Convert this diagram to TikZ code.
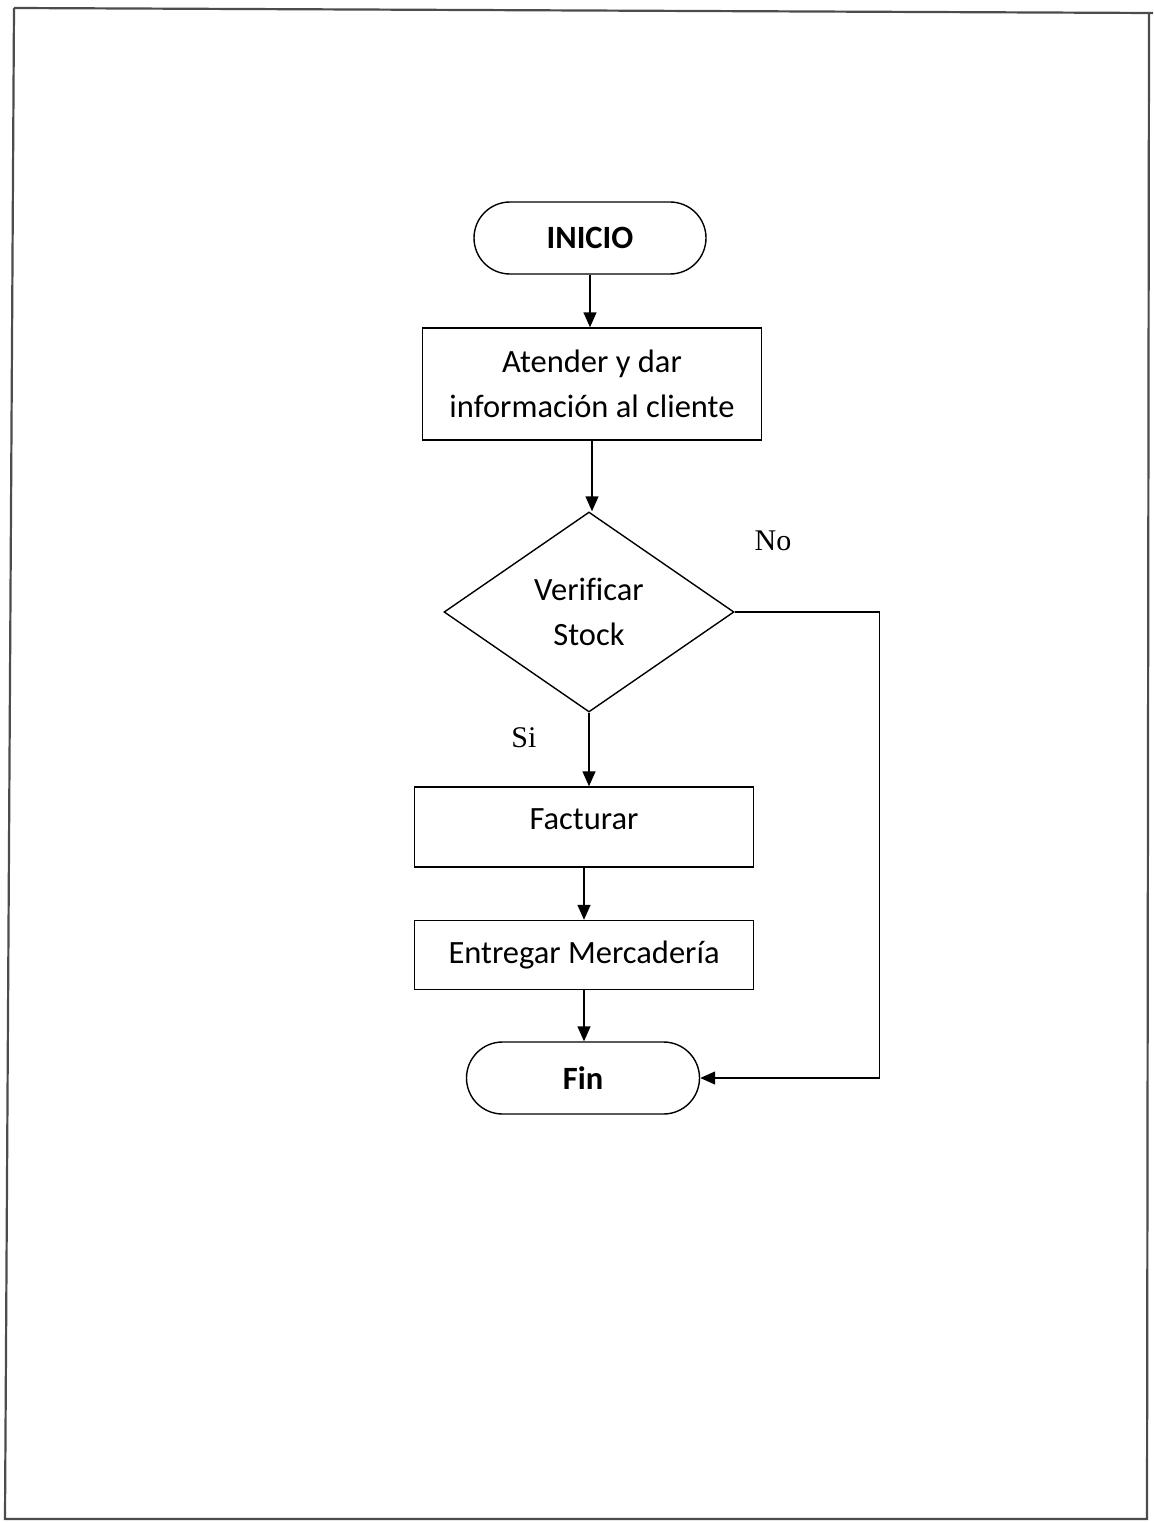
\documentclass[tikz,border=0pt]{standalone}
\usepackage{fontspec}
\setmainfont{Carlito}[Ligatures=NoCommon]
\newfontfamily\answerfont{Liberation Serif}
\usetikzlibrary{arrows.meta,shapes.geometric,calc}

\begin{document}
\begin{tikzpicture}[x=1pt,y=-1pt,line width=1.4pt,
  every node/.style={font=\fontsize{32.5}{45}\selectfont},
  terminal/.style={draw,rectangle,rounded corners=36pt,minimum width=232pt,
    minimum height=72pt,inner sep=0pt,font=\fontsize{32.5}{45}\selectfont\bfseries},
  process/.style={draw,rectangle,minimum width=339pt,inner sep=0pt,align=center},
  decision/.style={draw,diamond,minimum width=290pt,minimum height=200pt,
    inner sep=0pt,align=center},
  flow/.style={-{Triangle[length=15pt,width=13pt]}},
  answer/.style={font=\answerfont\fontsize{30}{36}\selectfont},
  frame/.style={draw=black!70,line width=2.2pt}]

\useasboundingbox (0,0) rectangle (1153,1522);
\fill[white] (0,0) rectangle (1153,1522);

% page border
\draw[frame] (14,8) -- (1153,13);
\draw[frame] (14,8) -- (5,1519) -- (1147,1519) -- (1149,14);

% flowchart nodes
\node[terminal] (start) at (590,238) {INICIO};
\node[process,minimum height=112pt] (attend) at (592,384)
  {Atender y dar\\informaci\'on al cliente};
\node[decision] (check) at (589,612) {Verificar\\Stock};
\node[process,minimum height=80pt,text height=20pt,text depth=16pt] (bill) at (584,827) {Facturar};
\node[process,minimum height=69pt] (deliver) at (584,955) {Entregar Mercader\'ia};
\node[terminal,minimum width=233pt] (end) at (583,1078) {Fin};

% connectors
\draw[flow] (start.south) -- (start.south |- attend.north);
\draw[flow] (attend.south) -- (attend.south |- check.north);
\draw[flow] (check.south) -- (check.south |- bill.north);
\draw[flow] (bill.south) -- (bill.south |- deliver.north);
\draw[flow] (deliver.south) -- (deliver.south |- end.north);
\coordinate (turn) at ($(check.east)+(145,0)$);
\draw[flow] (check.east) -- (turn) |- (end.east);

% branch labels
\node[answer] (no) at (773,541) {No};
\node[answer] (si) at (524,738) {Si};
\end{tikzpicture}
\end{document}
